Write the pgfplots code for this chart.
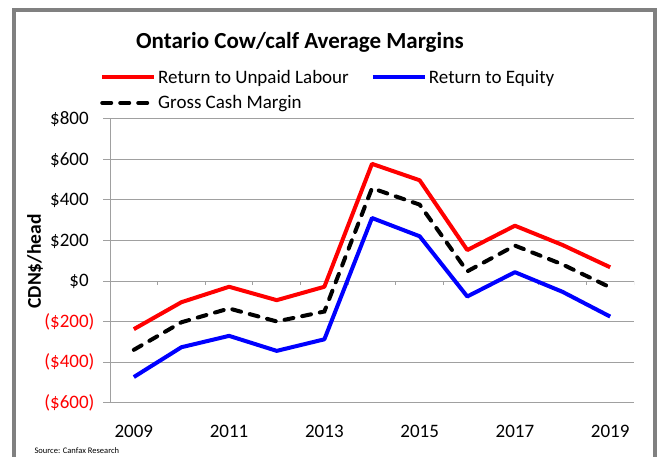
\documentclass[border=0pt]{standalone}
\usepackage{pgfplots}
\pgfplotsset{compat=1.18}
\usepackage{fontspec}
\setmainfont{Carlito}
\definecolor{gridgray}{RGB}{160,160,160}
\definecolor{framegray}{RGB}{128,128,128}
\definecolor{xred}{RGB}{255,0,0}
\definecolor{xblue}{RGB}{0,0,255}
\begin{document}
\begin{tikzpicture}[x=1pt,y=1pt]
\path[use as bounding box] (0,0) rectangle (658,456);
\clip (0,0) rectangle (658,456);
\draw[framegray, line width=4.5pt] (13.8,-10) -- (13.8,446) -- (655,446) -- (655,-10);
\node[anchor=base, font=\fontsize{23}{26}\selectfont\bfseries] at (300,407) {Ontario Cow/calf Average Margins};
\node[rotate=90, font=\fontsize{19.5}{22}\selectfont\bfseries] at (35,194.5) {CDN\$/head};
\node[anchor=base west, font=\fontsize{8.5}{10}\selectfont] at (31,3) {Source: Canfax Research};
\begin{axis}[
  at={(110pt,53.2pt)}, anchor=south west,
  scale only axis, width=524pt, height=284pt,
  xmin=2008.5, xmax=2019.5, ymin=-600, ymax=800,
  axis y line=left, axis x line=bottom,
  x axis line style={draw=none},
  y axis line style={-, draw=gridgray, line width=1pt},
  ytick={-600,-400,...,800},
  yticklabels={\textcolor{xred}{(\$600)},\textcolor{xred}{(\$400)},\textcolor{xred}{(\$200)},\$0\phantom{)},\$200\phantom{)},\$400\phantom{)},\$600\phantom{)},\$800\phantom{)}},
  yticklabel style={xshift=-5pt},
  ymajorgrids, grid style={gridgray, line width=1pt},
  ytick style={draw=gridgray, line width=1pt},
  tick align=outside, major tick length=7pt,
  xtick={2009,2011,2013,2015,2017,2019},
  xticklabels={2009,2011,2013,2015,2017,2019},
  xticklabel style={yshift=-12pt},
  xtick style={draw=none},
  tick label style={font=\fontsize{19}{22}\selectfont},
  legend style={draw=none, fill=none, at={(-0.019,1.18)}, anchor=north west,
    font=\fontsize{19}{22}\selectfont, inner sep=0pt, row sep=7pt,
    /tikz/every even column/.append style={column sep=20pt}},
  legend columns=2, legend cell align=left,
  legend image code/.code={\draw[#1] (0pt,0pt) -- (52pt,0pt);},
]
\draw[gridgray, line width=1pt] (axis cs:2008.5,0) -- (axis cs:2019.5,0);
\pgfplotsinvokeforeach{2008.5,2009.5,2010.5,2011.5,2012.5,2013.5,2014.5,2015.5,2016.5,2017.5,2018.5,2019.5}{
  \draw[gridgray, line width=1pt] (axis cs:#1,0) -- ([yshift=-4.3pt]axis cs:#1,0);
}
\addplot[xred, line width=4pt, line join=round] coordinates {
 (2009,-237) (2010,-104) (2011,-28) (2012,-94) (2013,-28) (2014,578)
 (2015,497) (2016,153) (2017,273) (2018,178) (2019,68)};
\addplot[xblue, line width=4pt, line join=round] coordinates {
 (2009,-473) (2010,-326) (2011,-270) (2012,-344) (2013,-287) (2014,311)
 (2015,221) (2016,-76) (2017,44) (2018,-53) (2019,-175)};
\addplot[black, line width=4pt, line cap=round, dash pattern=on 9pt off 9pt] coordinates {
 (2009,-339) (2010,-203) (2011,-135) (2012,-199) (2013,-150) (2014,458)
 (2015,377) (2016,48) (2017,175) (2018,82) (2019,-31)};
\legend{Return to Unpaid Labour, Return to Equity, Gross Cash Margin}
\end{axis}
\end{tikzpicture}
\end{document}
